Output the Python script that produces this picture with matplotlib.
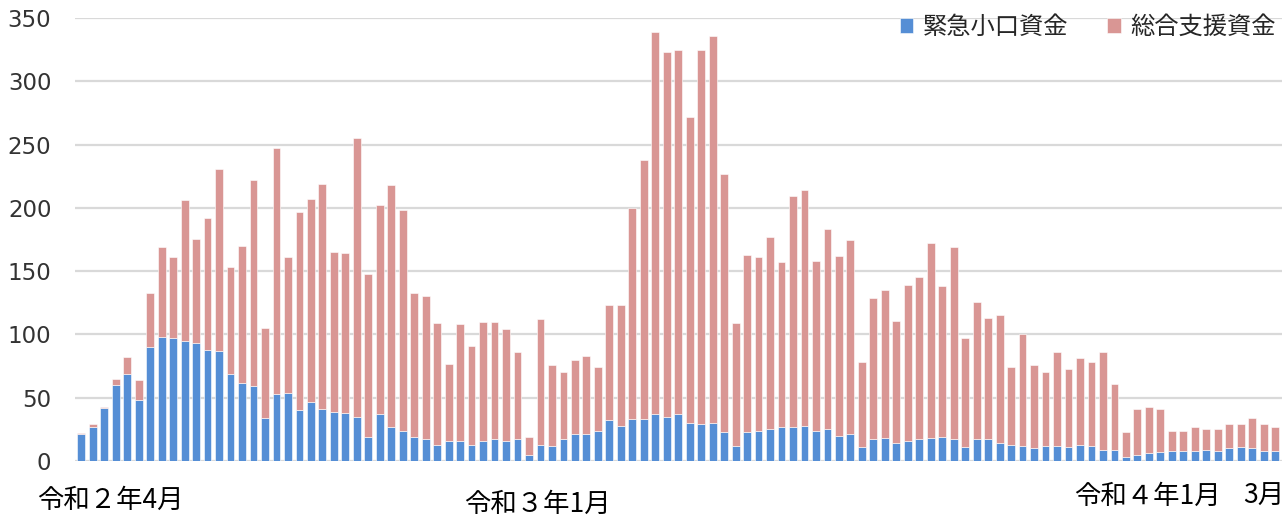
import numpy as np
import matplotlib
matplotlib.use("Agg")
from matplotlib import pyplot as plt

# weekly counts, April 2020 (令和2年4月) to March 2022
kinkyu = [21, 27, 42, 60, 69, 48, 90, 98, 97, 95, 93, 88, 87, 69, 62, 59, 34, 53, 54, 40,
          47, 41, 39, 38, 35, 19, 37, 27, 24, 19, 17, 13, 16, 16, 13, 16, 17, 16, 17, 5,
          13, 12, 17, 21, 21, 24, 32, 28, 33, 33, 37, 35, 37, 30, 29, 30, 23, 12, 23, 24,
          25, 27, 27, 28, 24, 25, 20, 21, 11, 17, 18, 14, 16, 17, 18, 19, 17, 11, 17, 17,
          14, 13, 12, 10, 12, 12, 11, 13, 12, 9, 9, 3, 5, 6, 7, 8, 8, 8, 9, 8,
          10, 11, 10, 8, 8]
sogo = [1, 2, 1, 5, 13, 16, 43, 71, 64, 111, 82, 104, 144, 84, 108, 163, 71, 194, 107, 157,
        160, 178, 126, 126, 220, 129, 165, 191, 174, 114, 113, 96, 61, 92, 78, 94, 93, 88, 69, 14,
        99, 64, 53, 59, 62, 50, 91, 95, 167, 205, 302, 288, 288, 242, 296, 306, 204, 97, 140, 137,
        152, 130, 182, 186, 134, 158, 142, 154, 67, 112, 117, 97, 123, 128, 154, 119, 152, 86, 109, 96,
        101, 61, 88, 66, 58, 74, 62, 68, 66, 77, 52, 20, 36, 37, 34, 16, 16, 19, 16, 17,
        19, 18, 24, 21, 19]
series_names = ["緊急小口資金", "総合支援資金"]
month_labels = ["令和２年4月", "令和３年1月", "令和４年1月", "3月"]
month_pos = [2.5, 39.7, 92.9, 103.0]
month_dy = [0, -4, 4, 4]

BLUE = "#558ed5"
PINK = "#d99694"
JP = ["Noto Sans CJK JP", "DejaVu Sans"]


def draw():
    fig = plt.figure(figsize=(12.85, 5.15), dpi=100)
    ax = fig.add_axes([75 / 1285, 54 / 515, 1207 / 1285, 443 / 515])
    x = np.arange(len(kinkyu))
    ax.bar(x, kinkyu, width=0.68, color=BLUE, edgecolor="white", linewidth=0.4,
           label=series_names[0], zorder=3)
    ax.bar(x, sogo, width=0.68, bottom=kinkyu, color=PINK, edgecolor="white",
           linewidth=0.4, label=series_names[1], zorder=3)

    ax.set_xlim(-0.55, 104.6)
    ax.set_ylim(0, 350)
    ax.set_yticks(range(0, 351, 50))
    ax.yaxis.grid(True, color="#d9d9d9", linewidth=1.6, zorder=0)
    ax.tick_params(axis="y", length=0, pad=17, labelsize=16.5, labelcolor="#333333")
    ax.set_xticks([])
    for s in ax.spines.values():
        s.set_visible(False)

    trans = matplotlib.transforms.blended_transform_factory(ax.transData, fig.transFigure)
    for lab, pos, dy in zip(month_labels, month_pos, month_dy):
        ax.text(pos, (15 + dy) / 515, lab, transform=trans, ha="center", va="center",
                fontsize=19, family=JP, color="black")

    fig.legend(loc="center right", bbox_to_anchor=(1276 / 1285, 1 - 27 / 515), ncol=2,
               frameon=False, prop={"family": JP, "size": 17.5}, handlelength=0.55,
               handleheight=0.55, handletextpad=0.4, columnspacing=1.6,
               borderaxespad=0, borderpad=0, labelcolor="#262626")
    fig.savefig("out.png", dpi=100)


if __name__ == "__main__":
    draw()
